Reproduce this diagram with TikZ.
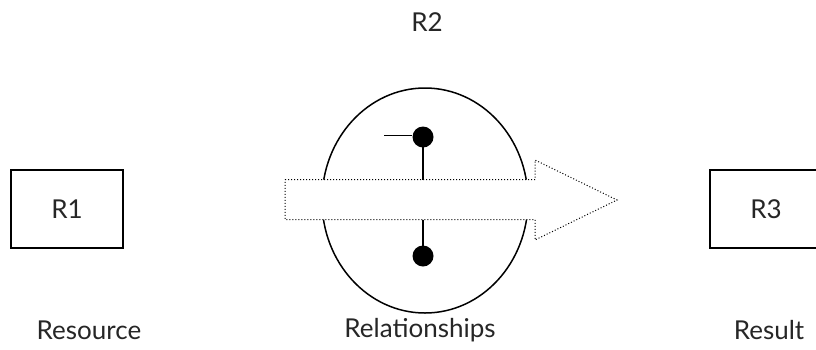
\documentclass[tikz,border=0pt]{standalone}
\usepackage{fontspec}
\setmainfont{Lato}
\usetikzlibrary{shapes.geometric}
\begin{document}
\begin{tikzpicture}[x=1pt,y=-1pt,
  lbl/.style={font=\fontsize{26}{30}\selectfont, inner sep=0pt, text=black!85},
  rbox/.style={draw, line width=1.6pt, minimum width=112pt, minimum height=78pt, inner sep=0pt, font=\fontsize{26}{30}\selectfont, text=black!85},
  blob/.style={circle, fill=black, minimum size=21pt, inner sep=0pt},
  stem/.style={line width=1.5pt},
  flow/.style={draw, dotted, line width=1pt, fill=white}]
\useasboundingbox (0,0) rectangle (816,349);
\clip (0,0) rectangle (816,349);
% ellipse
\node[ellipse, draw, line width=1.5pt, minimum width=206pt, minimum height=225pt, inner sep=0pt] (ell) at (425,200.5) {};
% arrow
\coordinate (a1) at (285,179.5);
\coordinate (a2) at (535,179.5);
\coordinate (a3) at (535,160);
\coordinate (tip) at (617,200);
\coordinate (a5) at (535,240);
\coordinate (a6) at (535,219.5);
\coordinate (a7) at (285,219.5);
\draw[flow] (a1) -- (a2) -- (a3) -- (tip) -- (a5) -- (a6) -- (a7) -- cycle;
\coordinate (atop) at (423,179.5);
\coordinate (abot) at (423,219.5);
% dots
\node[blob] (dtop) at (423,137) {};
\node[blob] (dbot) at (423,256) {};
\coordinate (hl) at (384,135.5);
\draw[stem] (dtop.center) -- (atop);
\draw[stem] (abot) -- (dbot.center);
\draw[stem] (hl) -- (hl -| dtop.west);
% boxes
\node[rbox] (r1) at (67,209) {R1};
\node[rbox] (r3) at (766,209) {R3};
% labels
\node[lbl] (r2) at (427,22) {R2};
\node[lbl] (res) at (89,330) {Resource};
\node[lbl] (rel) at (420,330) {Relationships};
\node[lbl] (rslt) at (769,330) {Result};
\end{tikzpicture}
\end{document}
